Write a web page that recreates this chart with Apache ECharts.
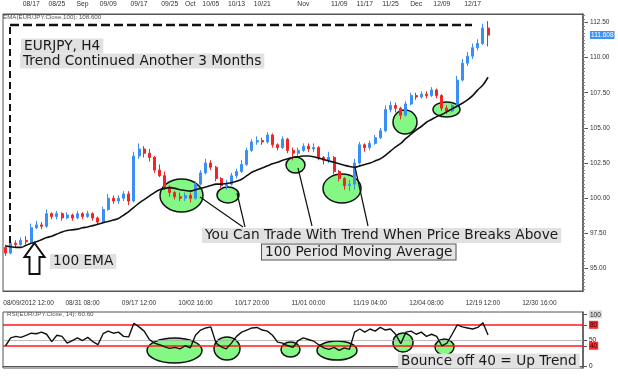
<!DOCTYPE html>
<html><head><meta charset="utf-8">
<script src="https://cdn.jsdelivr.net/npm/echarts@6/dist/echarts.min.js"></script>
<style>html,body{margin:0;padding:0;background:#fff}#c{width:618px;height:382px}</style>
</head><body><div id="c"></div><script>
// ---- categories: trading days Aug 10 .. Dec 21 2012, then calendar days (future area) ----
const slotCount = 113;
const lastTradingDay = Date.UTC(2012, 11, 21);
const slotDays = [];
(function () {
  let t = Date.UTC(2012, 7, 10);
  while (slotDays.length < slotCount) {
    const d = new Date(t);
    const wd = d.getUTCDay();
    if (t > lastTradingDay || (wd !== 0 && wd !== 6)) {
      slotDays.push(String(d.getUTCMonth() + 1).padStart(2, '0') + '/' + String(d.getUTCDate()).padStart(2, '0'));
    }
    t += 86400000;
  }
})();

// ---- tick labels ----
const topTickDays   = ['08/17','08/24','08/31','09/07','09/17','09/25','10/01','10/05','10/12','10/19','10/31','11/09','11/16','11/23','11/30','12/07','12/17'];
const topTickLabels = ['08/17','08/25','Sep','09/09','09/17','09/25','Oct','10/05','10/13','10/21','Nov','11/09','11/17','11/25','Dec','12/09','12/17'];
const bottomTickDays   = ['08/10','08/31','09/17','10/02','10/17','11/01','11/19','12/04','12/19','12/30'];
const bottomTickLabels = ['08/09/2012 12:00','08/31 08:00','09/17 12:00','10/02 16:00','10/17 20:00','11/01 00:00','11/19 04:00','12/04 08:00','12/19 12:00','12/30 16:00'];
const priceTicks = [95, 97.5, 100, 102.5, 105, 107.5, 110, 112.5];
const lastPrice = 111.608;
const rsiTicks = [0, 40, 50, 80, 100];
const rsiBands = [80, 40];
const rsiMid = 50;

// ---- EUR/JPY candles (one per slot) ----
const openPrices = [
 96.5,96.1,96.8,96.7,97.0,96.9,97.9,98.1,98.0,98.9,
 98.7,98.9,98.6,98.8,98.6,98.9,98.7,98.9,98.6,98.3,
 99.2,100.0,99.8,100.0,100.3,99.8,103.0,103.5,103.2,102.9,
 102.0,101.6,100.8,100.4,100.1,100.0,100.2,100.0,101.0,101.8,
 102.5,102.2,101.4,100.9,101.0,101.6,101.9,102.4,103.4,104.0,
 104.1,104.0,104.5,103.8,103.6,104.2,103.4,103.2,103.4,103.7,
 103.5,103.6,102.9,102.7,102.9,101.9,101.4,100.9,101.0,102.5,
 103.8,103.6,103.9,104.3,104.8,106.3,106.6,106.4,105.9,106.7,
 107.3,107.2,107.4,107.3,107.7,107.3,106.4,106.2,106.6,108.4,
 109.6,110.1,110.7,111.0,112.1];
const closePrices = [
 96.1,96.8,96.7,97.0,96.9,97.9,98.1,98.0,98.9,98.7,
 98.9,98.6,98.8,98.6,98.9,98.7,98.9,98.6,98.3,99.2,
 100.0,99.8,100.0,100.3,99.8,103.0,103.5,103.2,102.9,102.0,
 101.6,100.8,100.4,100.1,100.0,100.2,100.0,101.0,101.8,102.5,
 102.2,101.4,100.9,101.0,101.6,101.9,102.4,103.4,104.0,104.1,
 104.0,104.5,103.8,103.6,104.2,103.4,103.2,103.4,103.7,103.5,
 103.6,102.9,102.7,102.9,101.9,101.4,100.9,101.0,102.5,103.8,
 103.6,103.9,104.3,104.8,106.3,106.6,106.4,105.9,106.7,107.3,
 107.2,107.4,107.3,107.7,107.3,106.4,106.2,106.6,108.4,109.6,
 110.1,110.7,111.0,112.1,111.6];
const lowPrices = [
 95.9,96.0,96.5,96.6,96.7,96.8,97.8,97.8,97.9,98.5,
 98.5,98.4,98.5,98.4,98.5,98.5,98.6,98.4,98.1,98.2,
 99.1,99.6,99.6,99.8,99.5,99.7,102.8,102.9,102.6,101.8,
 101.5,100.6,100.1,99.9,99.8,99.8,99.7,99.9,100.9,101.7,
 102.0,101.2,100.7,100.6,100.9,101.4,101.8,102.3,103.3,103.8,
 103.8,103.9,103.6,103.4,103.5,103.2,102.7,103.0,103.3,103.3,
 103.3,102.7,102.4,102.5,101.7,101.2,100.6,100.5,100.6,102.4,
 103.3,103.4,103.8,104.2,104.7,106.1,106.1,105.6,105.8,106.6,
 107.0,107.1,107.1,107.2,107.1,106.2,106.0,106.1,106.5,108.3,
 109.4,109.9,110.5,110.9,110.8];
const highPrices = [
 96.7,97.0,97.0,97.2,97.3,98.2,98.4,98.3,99.2,99.0,
 99.1,99.0,99.0,98.9,99.1,99.0,99.1,99.0,98.7,99.4,
 100.3,100.2,100.2,100.5,100.5,103.3,103.9,103.7,103.5,103.0,
 102.4,101.9,100.9,100.5,100.4,100.4,100.4,101.2,102.0,102.8,
 102.7,102.3,101.5,101.3,101.8,102.1,102.7,103.6,104.2,104.4,
 104.3,104.7,104.6,103.9,104.4,104.3,103.6,103.6,103.9,103.9,
 103.9,103.7,103.0,103.3,103.0,102.0,101.5,101.3,102.8,104.0,
 103.9,104.1,104.5,105.0,106.6,106.9,106.8,106.5,106.9,107.5,
 107.5,107.6,107.6,107.9,107.8,107.4,106.6,106.8,108.7,109.9,
 110.4,111.0,111.3,112.4,112.6];
// ---- 100 EMA ----
const ema100 = [
 96.6,96.55,96.5,96.5,96.65,96.8,96.9,97.05,97.2,97.3,
 97.45,97.6,97.7,97.75,97.8,97.9,97.95,98.05,98.15,98.25,
 98.35,98.45,98.55,98.8,99.05,99.35,99.65,99.9,100.15,100.4,
 100.6,100.7,100.75,100.7,100.6,100.55,100.5,100.6,100.7,100.8,
 100.9,101.0,101.0,101.05,101.1,101.2,101.35,101.6,101.85,102.0,
 102.15,102.3,102.45,102.55,102.7,102.8,102.9,102.95,103.0,103.0,
 102.95,102.85,102.75,102.65,102.55,102.45,102.35,102.25,102.2,102.3,
 102.4,102.5,102.65,102.8,103.05,103.35,103.65,103.9,104.25,104.55,
 104.85,105.1,105.4,105.6,105.8,105.95,106.15,106.35,106.55,106.75,
 107.0,107.3,107.7,108.05,108.6];
// ---- RSI(14) ----
const rsi14 = [
 40,55,58,56,60,64,63,66,62,48,
 60,58,45,50,55,50,56,48,42,63,
 68,64,66,58,57,83,76,68,52,45,
 42,38,35,37,34,40,36,60,70,74,
 76,45,38,34,45,58,66,70,74,75,
 70,68,60,47,45,40,37,50,55,52,
 49,42,36,33,37,31,36,33,66,72,
 66,72,68,75,70,72,62,44,66,68,
 62,66,58,62,58,40,45,62,80,76,
 74,72,75,84,60.6];

const candleData = openPrices.map((o, i) => [o, closePrices[i], lowPrices[i], highPrices[i]]);

const chart = echarts.init(document.getElementById('c'));
const SF = '"Liberation Sans", Arial, sans-serif';
const BF = '13.7px "DejaVu Sans", sans-serif';
const minorTicks = [];
for (let v = 93.5; v <= 113.01; v += 0.25) minorTicks.push(+v.toFixed(2));

function ellipse(cx, cy, rx, ry) {
  return { type: 'ellipse', z: -5, silent: true, shape: { cx, cy, rx, ry },
    style: { fill: '#84f884', stroke: '#111', lineWidth: 1.5 } };
}
function seg(x1, y1, x2, y2, w, dash) {
  return { type: 'line', z: 20, silent: true, shape: { x1, y1, x2, y2 },
    style: { stroke: '#111', lineWidth: w, lineDash: dash || null } };
}
function box(x, cy, text, border) {
  return { type: 'text', z: 30, silent: true, x, y: cy,
    style: { text, font: BF, fill: '#1a1a1a', verticalAlign: 'middle', align: 'left',
      backgroundColor: border ? '#e6e6e6' : '#e1e1e1', padding: [1, 3, 0, 3],
      borderColor: border ? '#555' : null, borderWidth: border ? 1 : 0 } };
}

const option = {
  animation: false,
  backgroundColor: '#fff',
  grid: [
    { left: 3, right: 35, top: 14, height: 277, show: true, borderColor: '#555', borderWidth: 1 },
    { left: 3, right: 35, top: 312, height: 56, show: true, borderColor: '#555', borderWidth: 1 }
  ],
  xAxis: [
    { gridIndex: 0, type: 'category', data: slotDays, position: 'bottom',
      axisLine: { lineStyle: { color: '#555' } },
      axisTick: { interval: 0, length: 3, lineStyle: { color: '#777' } },
      axisLabel: { margin: 9, fontFamily: SF, fontSize: 6.5, color: '#333',
        interval: (i, v) => bottomTickDays.includes(v),
        formatter: (v, i) => {
          const t = bottomTickLabels[bottomTickDays.indexOf(v)] || '';
          return i === 0 ? '{f|' + t + '}' : t;
        },
        rich: { f: { padding: [0, 0, 0, 46], fontFamily: SF, fontSize: 6.5, color: '#333' } } },
      splitLine: { show: false } },
    { gridIndex: 0, type: 'category', data: slotDays, position: 'top',
      axisLine: { lineStyle: { color: '#555' } },
      axisTick: { interval: 0, length: 3, lineStyle: { color: '#777' } },
      axisLabel: { margin: 6, fontFamily: SF, fontSize: 6.8, color: '#333',
        interval: (i, v) => topTickDays.includes(v),
        formatter: v => topTickLabels[topTickDays.indexOf(v)] || '' },
      splitLine: { show: false } },
    { gridIndex: 1, type: 'category', data: slotDays, axisLabel: { show: false },
      axisTick: { show: false }, axisLine: { lineStyle: { color: '#555' } }, splitLine: { show: false } }
  ],
  yAxis: [
    { gridIndex: 0, type: 'value', position: 'right', min: 93.4, max: 113.1, scale: true,
      axisLine: { show: true, lineStyle: { color: '#555', width: 1.5 } },
      axisTick: { show: true, length: 5, customValues: priceTicks, lineStyle: { color: '#555' } },
      axisLabel: { margin: 7, fontFamily: SF, fontSize: 6.5, color: '#333',
        customValues: priceTicks.concat([lastPrice]),
        formatter: v => Math.abs(v - lastPrice) < 1e-6 ? '{p|' + lastPrice.toFixed(3) + '}' : v.toFixed(2),
        rich: { p: { backgroundColor: '#3b93f2', color: '#fff', fontFamily: SF, fontSize: 6.5, padding: [1, 1, 0, 1] } } },
      splitLine: { show: false } },
    { gridIndex: 0, type: 'value', position: 'right', min: 93.4, max: 113.1,
      axisLine: { show: false }, axisLabel: { show: false },
      axisTick: { show: true, length: 2, customValues: minorTicks, lineStyle: { color: '#888' } },
      splitLine: { show: false } },
    { gridIndex: 1, type: 'value', position: 'right', min: -2.5, max: 104.5,
      axisLine: { show: true, lineStyle: { color: '#555', width: 1.5 } },
      axisTick: { show: true, length: 4, customValues: rsiTicks, lineStyle: { color: '#555' } },
      axisLabel: { margin: 6, fontFamily: SF, fontSize: 6.5, color: '#222', customValues: rsiTicks,
        formatter: v => (v === 80 || v === 40) ? '{r|' + v + '}' : (v === 100 ? '{g|100}' : String(v)),
        rich: { r: { backgroundColor: '#ff2b2b', color: '#3a0000', fontFamily: SF, fontSize: 6.5, padding: [1, 1, 0, 1] },
                g: { backgroundColor: '#d8d8d8', color: '#222', fontFamily: SF, fontSize: 6.5, padding: [1, 1, 0, 1] } } },
      splitLine: { show: false } }
  ],
  series: [
    { name: 'EUR/JPY', type: 'candlestick', xAxisIndex: 0, yAxisIndex: 0, data: candleData, barWidth: 2.5, z: 10,
      itemStyle: { color: '#3a8ff5', color0: '#f22424', borderColor: '#3a8ff5', borderColor0: '#f22424', borderWidth: 1 } },
    { name: 'EMA 100', type: 'line', xAxisIndex: 0, yAxisIndex: 0, data: ema100, smooth: 0.3, showSymbol: false,
      symbol: 'none', z: 11, lineStyle: { color: '#111', width: 1.6 } },
    { name: 'RSI', type: 'line', xAxisIndex: 2, yAxisIndex: 2, data: rsi14, showSymbol: false, symbol: 'none', z: 11,
      lineStyle: { color: '#111', width: 1.4 },
      markLine: { silent: true, symbol: 'none', label: { show: false }, z: 9,
        data: [
          { yAxis: rsiBands[0], lineStyle: { color: '#ff1a1a', width: 1.5, type: 'solid' } },
          { yAxis: rsiBands[1], lineStyle: { color: '#ff1a1a', width: 1.5, type: 'solid' } },
          { yAxis: rsiMid, lineStyle: { color: '#aaa', width: 0.8, type: 'solid' } }
        ] } }
  ],
  graphic: [
    // indicator captions
    { type: 'text', z: 30, silent: true, x: 3, y: 17.5,
      style: { text: 'EMA(EUR/JPY.Close,100): ' + ema100[ema100.length - 1].toFixed(3), font: '6.2px ' + SF, fill: '#555', verticalAlign: 'middle' } },
    { type: 'text', z: 30, silent: true, x: 7, y: 314.5,
      style: { text: 'RSI(EUR/JPY.Close, 14): ' + rsi14[rsi14.length - 1].toFixed(2), font: '6.2px ' + SF, fill: '#555', verticalAlign: 'middle' } },
    // green highlight ellipses
    ellipse(181.5, 195.5, 21.5, 16.5), ellipse(228, 195, 11, 8), ellipse(295.5, 165, 9.5, 8),
    ellipse(342, 188.5, 19, 14.5), ellipse(405, 122, 12, 12), ellipse(446.5, 109.5, 13.5, 7.5),
    ellipse(174.5, 350.5, 27.5, 12.5), ellipse(227, 348.5, 13, 11.5), ellipse(290.5, 349.5, 9.5, 7.5),
    ellipse(337, 350.5, 20, 9.5), ellipse(403, 342.5, 10, 9.5), ellipse(444.5, 347, 9.5, 8),
    // dashed frame
    seg(10, 25, 472, 25, 2.5, [9, 4]),
    seg(10, 27, 10, 246, 2, [7, 4]),
    // pointer lines
    seg(200, 197, 243, 227, 1.2), seg(237, 193, 245, 227, 1.2),
    seg(298, 168, 312, 226, 1.2), seg(355, 167, 368, 226, 1.2),
    // up arrow
    { type: 'polygon', z: 20, silent: true,
      shape: { points: [[34.5, 243], [44.5, 257], [39.5, 257], [39.5, 274], [29.5, 274], [29.5, 257], [24.5, 257]] },
      style: { fill: '#fff', stroke: '#111', lineWidth: 2, lineJoin: 'miter' } },
    // text boxes
    box(21, 46, 'EURJPY, H4'),
    box(20, 61, 'Trend Continued Another 3 Months'),
    box(50, 261.5, '100 EMA'),
    box(202, 235.5, 'You Can Trade With Trend When Price Breaks Above'),
    box(262, 252, '100 Period Moving Average', true),
    box(398, 361, 'Bounce off 40 = Up Trend')
  ]
};
chart.setOption(option);
</script></body></html>
